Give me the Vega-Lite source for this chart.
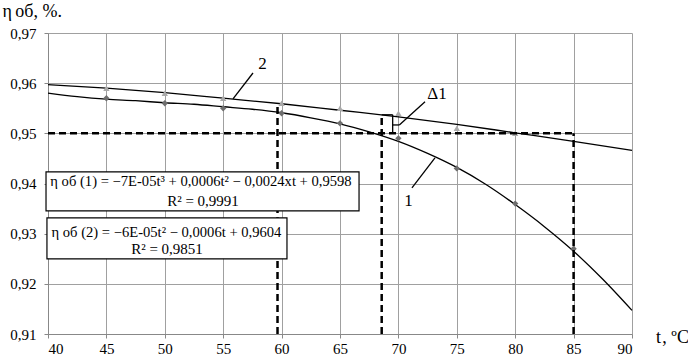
{
  "$schema": "https://vega.github.io/schema/vega-lite/v6.json",
  "width": 584,
  "height": 301,
  "autosize": "none",
  "padding": {"left": 48, "top": 33, "right": 56, "bottom": 23},
  "background": "white",
  "config": {
    "view": {"stroke": null},
    "font": "Liberation Serif",
    "axis": {
      "labelFont": "Liberation Serif",
      "labelFontSize": 15,
      "labelColor": "#000",
      "gridColor": "#a0a0a0",
      "gridWidth": 1,
      "domainColor": "#888",
      "tickColor": "#888",
      "tickSize": 4,
      "title": null
    }
  },
  "datasets": {
    "curves": [
      {"series": "1", "t": 40, "v": 0.9580},
      {"series": "1", "t": 42.5, "v": 0.9573},
      {"series": "1", "t": 45, "v": 0.9568},
      {"series": "1", "t": 47.5, "v": 0.9565},
      {"series": "1", "t": 50, "v": 0.9561},
      {"series": "1", "t": 52.5, "v": 0.9558},
      {"series": "1", "t": 55, "v": 0.9553},
      {"series": "1", "t": 57.5, "v": 0.9548},
      {"series": "1", "t": 60, "v": 0.9541},
      {"series": "1", "t": 62.5, "v": 0.9531},
      {"series": "1", "t": 65, "v": 0.9519},
      {"series": "1", "t": 67.5, "v": 0.9503},
      {"series": "1", "t": 70, "v": 0.9484},
      {"series": "1", "t": 72.5, "v": 0.9460},
      {"series": "1", "t": 75, "v": 0.9432},
      {"series": "1", "t": 77.5, "v": 0.9398},
      {"series": "1", "t": 80, "v": 0.9358},
      {"series": "1", "t": 82.5, "v": 0.9314},
      {"series": "1", "t": 85, "v": 0.9265},
      {"series": "1", "t": 87.5, "v": 0.9209},
      {"series": "1", "t": 90, "v": 0.9147},
      {"series": "2", "t": 40, "v": 0.9597},
      {"series": "2", "t": 45, "v": 0.9590},
      {"series": "2", "t": 50, "v": 0.9581},
      {"series": "2", "t": 55, "v": 0.9570},
      {"series": "2", "t": 60, "v": 0.9559},
      {"series": "2", "t": 65, "v": 0.9546},
      {"series": "2", "t": 70, "v": 0.9533},
      {"series": "2", "t": 75, "v": 0.9518},
      {"series": "2", "t": 80, "v": 0.9501},
      {"series": "2", "t": 85, "v": 0.9484},
      {"series": "2", "t": 90, "v": 0.9466}
    ],
    "points": [
      {"series": "1", "t": 45, "v": 0.957},
      {"series": "1", "t": 50, "v": 0.956},
      {"series": "1", "t": 55, "v": 0.955},
      {"series": "1", "t": 60, "v": 0.954},
      {"series": "1", "t": 65, "v": 0.952},
      {"series": "1", "t": 70, "v": 0.949},
      {"series": "1", "t": 75, "v": 0.943},
      {"series": "1", "t": 80, "v": 0.936},
      {"series": "1", "t": 85, "v": 0.927},
      {"series": "2", "t": 45, "v": 0.959},
      {"series": "2", "t": 50, "v": 0.958},
      {"series": "2", "t": 55, "v": 0.957},
      {"series": "2", "t": 60, "v": 0.956},
      {"series": "2", "t": 65, "v": 0.955},
      {"series": "2", "t": 70, "v": 0.954},
      {"series": "2", "t": 75, "v": 0.951},
      {"series": "2", "t": 80, "v": 0.950}
    ],
    "dashed": [
      {"t": 40, "t2": 85, "v": 0.95, "v2": 0.95},
      {"t": 59.65, "t2": 59.65, "v": 0.91, "v2": 0.956},
      {"t": 68.57, "t2": 68.57, "v": 0.91, "v2": 0.9537},
      {"t": 85, "t2": 85, "v": 0.91, "v2": 0.95}
    ],
    "solid": [
      {"t": 68.57, "t2": 69.51, "v": 0.9537, "v2": 0.9537},
      {"t": 69.51, "t2": 69.51, "v": 0.9537, "v2": 0.950},
      {"t": 69.51, "t2": 70.08, "v": 0.95167, "v2": 0.95167},
      {"t": 70.08, "t2": 72.28, "v": 0.95167, "v2": 0.95631},
      {"t": 55.84, "t2": 57.55, "v": 0.95685, "v2": 0.96203},
      {"t": 73.13, "t2": 71.16, "v": 0.9451, "v2": 0.93912}
    ],
    "boxes": [
      {"t": 39.83, "t2": 66.63, "v": 0.94231, "v2": 0.93454},
      {"t": 39.91, "t2": 60.46, "v": 0.93315, "v2": 0.92498}
    ],
    "eqtext": [
      {"t": 40.2, "v": 0.94032, "label": "η об (1) = −7E-05t³ + 0,0006t² − 0,0024xt + 0,9598"},
      {"t": 40.3, "v": 0.93016, "label": "η об (2) = −6E-05t² − 0,0006t + 0,9604"}
    ],
    "r2text": [
      {"t": 53.27, "v": 0.93653, "label": "R² = 0,9991"},
      {"t": 50.19, "v": 0.92697, "label": "R² = 0,9851"}
    ],
    "labels": [
      {"t": 58.36, "v": 0.96382, "label": "2"},
      {"t": 70.86, "v": 0.93653, "label": "1"},
      {"t": 73.3, "v": 0.95785, "label": "Δ1"}
    ]
  },
  "layer": [
    {
      "data": {"name": "curves"},
      "mark": {"type": "line", "color": "#000", "strokeWidth": 1.3, "interpolate": "monotone"},
      "encoding": {
        "x": {"field": "t", "type": "quantitative",
              "scale": {"domain": [40, 90], "nice": false, "zero": false},
              "axis": {"values": [40, 45, 50, 55, 60, 65, 70, 75, 80, 85, 90], "grid": true, "labelPadding": 3}},
        "y": {"field": "v", "type": "quantitative",
              "scale": {"domain": [0.91, 0.97], "nice": false, "zero": false},
              "axis": {"values": [0.91, 0.92, 0.93, 0.94, 0.95, 0.96, 0.97], "grid": true, "labelPadding": 8,
                       "labelExpr": "replace(format(datum.value, '.2f'), '.', ',')"}},
        "detail": {"field": "series"}
      }
    },
    {
      "data": {"name": "points"},
      "mark": {"type": "point", "filled": true, "size": 40, "opacity": 1},
      "encoding": {
        "x": {"field": "t", "type": "quantitative"},
        "y": {"field": "v", "type": "quantitative"},
        "shape": {"field": "series", "type": "nominal", "scale": {"domain": ["1", "2"], "range": ["diamond", "triangle-up"]}, "legend": null},
        "color": {"field": "series", "type": "nominal", "scale": {"domain": ["1", "2"], "range": ["#6e6e6e", "#aaaaaa"]}, "legend": null}
      }
    },
    {
      "data": {"name": "dashed"},
      "mark": {"type": "rule", "color": "#000", "strokeWidth": 2.5, "strokeDash": [7, 4]},
      "encoding": {
        "x": {"field": "t", "type": "quantitative"},
        "x2": {"field": "t2"},
        "y": {"field": "v", "type": "quantitative"},
        "y2": {"field": "v2"}
      }
    },
    {
      "data": {"name": "solid"},
      "mark": {"type": "rule", "color": "#000", "strokeWidth": 1.3},
      "encoding": {
        "x": {"field": "t", "type": "quantitative"},
        "x2": {"field": "t2"},
        "y": {"field": "v", "type": "quantitative"},
        "y2": {"field": "v2"}
      }
    },
    {
      "data": {"name": "boxes"},
      "mark": {"type": "rect", "fill": "#fff", "stroke": "#000", "strokeWidth": 1.2},
      "encoding": {
        "x": {"field": "t", "type": "quantitative"},
        "x2": {"field": "t2"},
        "y": {"field": "v", "type": "quantitative"},
        "y2": {"field": "v2"}
      }
    },
    {
      "data": {"name": "eqtext"},
      "mark": {"type": "text", "font": "Liberation Serif", "fontSize": 14.6, "color": "#000", "align": "left", "baseline": "middle"},
      "encoding": {
        "x": {"field": "t", "type": "quantitative"},
        "y": {"field": "v", "type": "quantitative"},
        "text": {"field": "label"}
      }
    },
    {
      "data": {"name": "r2text"},
      "mark": {"type": "text", "font": "Liberation Serif", "fontSize": 15, "color": "#000", "align": "center", "baseline": "middle"},
      "encoding": {
        "x": {"field": "t", "type": "quantitative"},
        "y": {"field": "v", "type": "quantitative"},
        "text": {"field": "label"}
      }
    },
    {
      "data": {"name": "labels"},
      "mark": {"type": "text", "font": "Liberation Serif", "fontSize": 17, "color": "#000", "align": "center", "baseline": "middle"},
      "encoding": {
        "x": {"field": "t", "type": "quantitative"},
        "y": {"field": "v", "type": "quantitative"},
        "text": {"field": "label"}
      }
    },
    {
      "data": {"values": [
        {"t": 36.1, "v": 0.9732, "label": "η", "style": "italic"},
        {"t": 37.2, "v": 0.9732, "label": "об, %.", "style": "normal"},
        {"t": 92.05, "v": 0.9083, "label": "t", "style": "italic"},
        {"t": 92.6, "v": 0.9083, "label": ", ºC", "style": "normal"}
      ]},
      "mark": {"type": "text", "font": "Liberation Serif", "fontSize": 18, "color": "#000", "align": "left", "baseline": "alphabetic"},
      "encoding": {
        "x": {"field": "t", "type": "quantitative"},
        "y": {"field": "v", "type": "quantitative"},
        "text": {"field": "label"},
        "fontStyle": {"field": "style", "type": "nominal", "scale": null}
      }
    }
  ]
}
